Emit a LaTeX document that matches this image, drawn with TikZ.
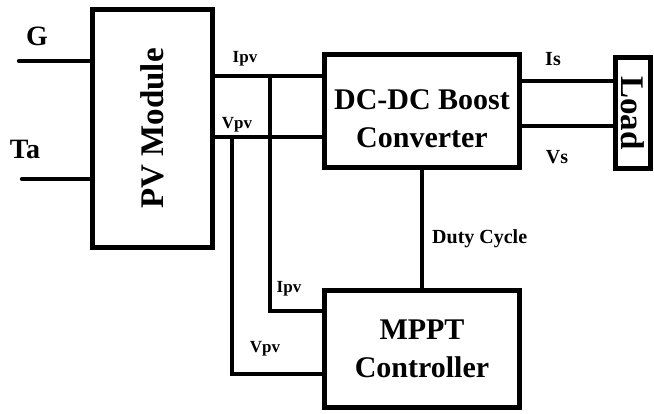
\documentclass[tikz,border=0pt]{standalone}
\usepackage{fontspec}
\usepackage{graphicx}
\setmainfont{Liberation Serif}
\usetikzlibrary{positioning,calc}
\definecolor{pvedge}{RGB}{0,0,0}
\tikzset{
  blk/.style={
    draw=pvedge, line width=5pt, inner sep=0pt,
    align=center, font=\fontsize{30}{38}\selectfont\bfseries
  },
  wire/.style={draw=pvedge, line width=4.3pt, line cap=round},
  tag/.style={font=\fontsize{17}{17}\selectfont\bfseries, inner sep=0pt, anchor=base},
  bigtag/.style={font=\fontsize{28}{28}\selectfont\bfseries, inner sep=0pt, anchor=base},
  midtag/.style={font=\fontsize{20}{20}\selectfont\bfseries, inner sep=0pt, anchor=base}
}
\begin{document}
\begin{tikzpicture}[x=1pt, y=-1pt]
  \useasboundingbox (0,0) rectangle (654,413);
  % blocks
  \node[blk, minimum width=120pt, minimum height=238pt] (pv) at (152.5,128.5)
    {\fontsize{33}{33}\selectfont\rotatebox{90}{PV Module}};
  \node[blk, minimum width=195pt, minimum height=113pt] (dc) at (422,111)
    {\raisebox{-16pt}[0pt][0pt]{\begin{tabular}{@{}c@{}}DC-DC Boost\\Converter\end{tabular}}};
  \node[blk, minimum width=195pt, minimum height=117pt] (mppt) at (422,349) {MPPT\\Controller};
  \node[blk, minimum width=35pt, minimum height=111pt] (load) at (633,113)
    {\fontsize{33}{33}\selectfont\rotatebox{-90}{Load}};

  % inputs
  \coordinate (gin) at (19,61);
  \coordinate (tain) at (22,179);
  \draw[wire] (gin) -- (gin -| pv.west);
  \draw[wire] (tain) -- (tain -| pv.west);
  \node[bigtag] (g) at (37,45) {G};
  \node[bigtag] (ta) at (25,158) {Ta};

  % pv to converter
  \coordinate (ipv) at (270,76);
  \coordinate (vpv) at (232,137);
  \draw[wire] (pv.east |- ipv) -- (dc.west |- ipv);
  \draw[wire] (pv.east |- vpv) -- (dc.west |- vpv);
  \node[tag] (ipvt) at (245,62) {Ipv};
  \node[tag] (vpvt) at (237,128) {Vpv};

  % feedback to mppt
  \coordinate (ipvm) at (270,311);
  \coordinate (vpvm) at (232,374);
  \draw[wire] (ipv) -- (ipvm) -- (ipvm -| mppt.west);
  \draw[wire] (vpv) -- (vpvm) -- (vpvm -| mppt.west);
  \node[tag] (ipvb) at (289,292) {Ipv};
  \node[tag] (vpvb) at (265,352) {Vpv};

  % duty cycle
  \draw[wire] (mppt.north) -- (dc.south);
  \node[midtag, anchor=base west] (duty) at (432,243) {Duty Cycle};

  % converter to load
  \coordinate (is) at (522,81);
  \coordinate (vs) at (522,126);
  \draw[wire] (dc.east |- is) -- (load.west |- is);
  \draw[wire] (dc.east |- vs) -- (load.west |- vs);
  \node[midtag] (ist) at (553,65) {Is};
  \node[midtag] (vst) at (557,163) {Vs};
\end{tikzpicture}
\end{document}
